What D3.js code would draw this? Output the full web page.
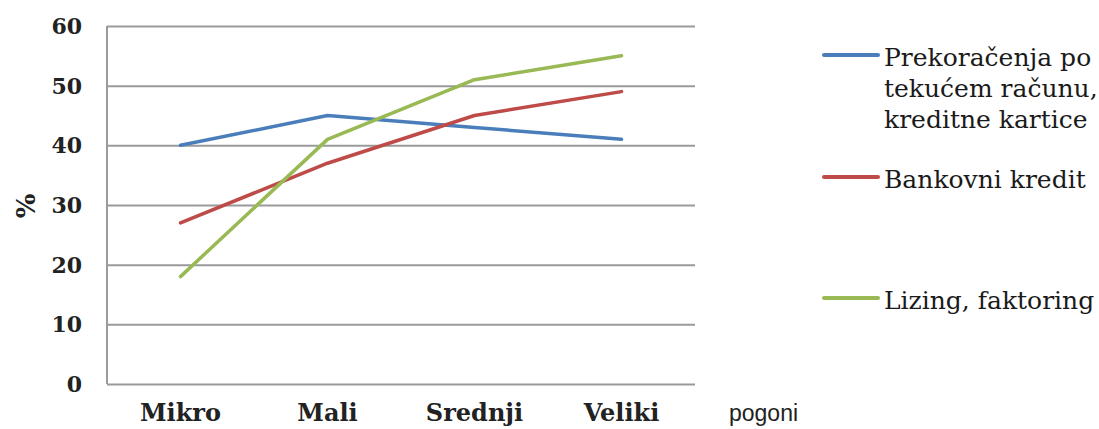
<!DOCTYPE html>
<html><head><meta charset="utf-8">
<script src="https://cdn.jsdelivr.net/npm/d3@7"></script>
<style>body{margin:0;background:#fff}svg{display:block}</style>
</head><body>
<svg id="c" width="1099" height="429"></svg>
<script>
const categories = ["Mikro", "Mali", "Srednji", "Veliki"];
const seriesNames = [["Prekoračenja po", "tekućem računu,", "kreditne kartice"], ["Bankovni kredit"], ["Lizing, faktoring"]];
const prekoracenja = [40, 45, 43, 41];
const bankovni = [27, 37, 45, 49];
const lizing = [18, 41, 51, 55];
const yTicks = [0, 10, 20, 30, 40, 50, 60];
const colors = ["#4a7ebb", "#be4b48", "#98b954"];
const series = [prekoracenja, bankovni, lizing];
const SERIF = "'DejaVu Serif', serif";

const svg = d3.select("#c");
const x = d3.scaleBand().domain(categories).range([107, 695]);
const y = d3.scaleLinear().domain([0, 60]).range([384, 26]);

const ya = svg.append("g").attr("transform", "translate(107,0)")
  .call(d3.axisLeft(y).tickValues(yTicks).tickSize(-588).tickPadding(25));
ya.select(".domain").remove();
ya.selectAll(".tick text").style("font-family", SERIF).attr("font-weight", "bold")
  .attr("font-size", 22).attr("fill", "#222").attr("dy", "0.34em");
ya.selectAll(".tick line").attr("stroke", "#9a9a9a").attr("stroke-width", 2);
svg.append("line").attr("x1", 107).attr("x2", 107).attr("y1", y(60)).attr("y2", y(0))
  .attr("stroke", "#9a9a9a").attr("stroke-width", 2);

const xa = svg.append("g").attr("transform", "translate(0,384)")
  .call(d3.axisBottom(x).tickSize(0).tickPadding(37));
xa.select(".domain").remove();
xa.selectAll(".tick text").style("font-family", SERIF).attr("font-weight", "bold")
  .attr("font-size", 24).attr("fill", "#222").attr("dy", 0);

svg.append("text").attr("x", 729).attr("y", 421).text("pogoni")
  .style("font-family", "'Liberation Sans', Arial, sans-serif").attr("font-size", 23).attr("fill", "#222");

svg.append("text").attr("transform", "translate(35,206) rotate(-90)").attr("text-anchor", "middle")
  .text("%").style("font-family", SERIF).attr("font-weight", "bold").attr("font-size", 26).attr("fill", "#222");

const line = d3.line().x((d, i) => x(categories[i]) + x.bandwidth() / 2).y(d => y(d));
series.forEach((s, k) => {
  svg.append("path").attr("d", line(s)).attr("fill", "none").attr("stroke", colors[k])
    .attr("stroke-width", 3.5).attr("stroke-linecap", "round").attr("stroke-linejoin", "round");
});

const legY = [55, 177, 298];
seriesNames.forEach((names, k) => {
  svg.append("line").attr("x1", 824).attr("x2", 878).attr("y1", legY[k]).attr("y2", legY[k])
    .attr("stroke", colors[k]).attr("stroke-width", 4).attr("stroke-linecap", "round");
  const t = svg.append("text").style("font-family", SERIF).attr("font-size", 25)
    .attr("fill", "#1a1a1a");
  names.forEach((n, j) => {
    t.append("tspan").attr("x", 884).attr("y", legY[k] + 11 + j * 31).text(n);
  });
});
</script>
</body></html>
